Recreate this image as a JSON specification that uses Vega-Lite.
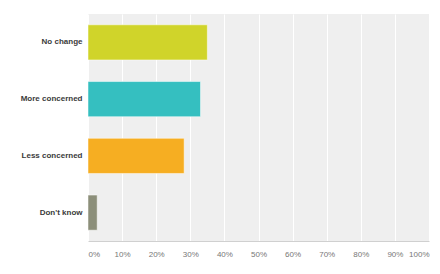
{
  "$schema": "https://vega.github.io/schema/vega-lite/v6.json",
  "autosize": "none",
  "width": 341,
  "height": 227,
  "padding": {"left": 88, "top": 14, "right": 11, "bottom": 33},
  "background": "white",
  "config": {
    "view": {"fill": "#efefef", "stroke": null},
    "font": "Liberation Sans"
  },
  "data": {
    "values": [
      {"answer": "No change", "share": 35, "color": "#d0d42a"},
      {"answer": "More concerned", "share": 33, "color": "#35bfc0"},
      {"answer": "Less concerned", "share": 28.2, "color": "#f6ae22"},
      {"answer": "Don't know", "share": 2.7, "color": "#8c8f7a"}
    ]
  },
  "mark": {"type": "bar", "stroke": "white", "strokeOpacity": 0.5, "strokeWidth": 1},
  "encoding": {
    "y": {
      "field": "answer",
      "type": "nominal",
      "sort": null,
      "scale": {"paddingInner": 0.38, "paddingOuter": 0.19},
      "axis": {
        "title": null,
        "ticks": false,
        "domain": false,
        "labelFontSize": 8,
        "labelFontWeight": "bold",
        "labelColor": "#3a3a3a",
        "labelPadding": 6
      }
    },
    "x": {
      "field": "share",
      "type": "quantitative",
      "scale": {"domain": [0, 100], "nice": false},
      "axis": {
        "title": null,
        "values": [0, 10, 20, 30, 40, 50, 60, 70, 80, 90, 100],
        "labelExpr": "datum.value + '%'",
        "ticks": false,
        "domainColor": "#d0d0d0",
        "gridColor": "white",
        "gridWidth": 1,
        "labelFontSize": 8,
        "labelColor": "#777777",
        "labelPadding": 9,
        "labelFlush": true,
        "labelOverlap": false
      }
    },
    "color": {"field": "color", "type": "nominal", "scale": null, "legend": null}
  }
}
